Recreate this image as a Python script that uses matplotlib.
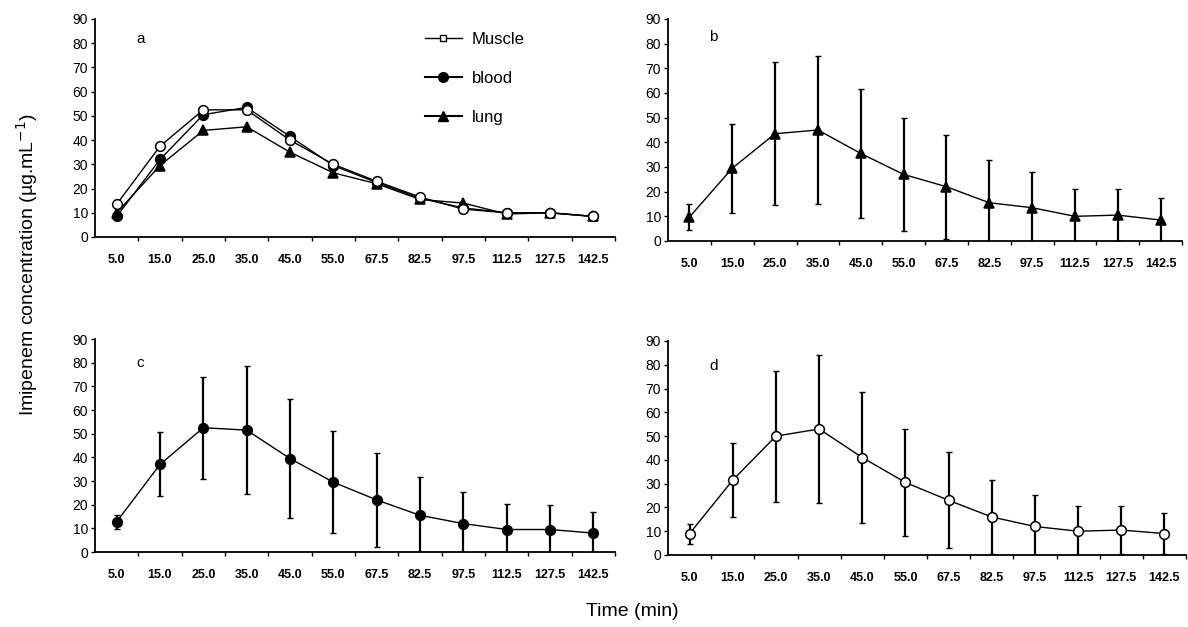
import numpy as np
import matplotlib
matplotlib.use("Agg")
import matplotlib.pyplot as plt
from matplotlib.ticker import FixedLocator
from matplotlib.lines import Line2D

plt.rcParams['font.family'] = ['Liberation Sans', 'DejaVu Sans']

times = ["5.0", "15.0", "25.0", "35.0", "45.0", "55.0",
         "67.5", "82.5", "97.5", "112.5", "127.5", "142.5"]

# panel a: all three tissues, no error bars
muscle_a = [13.5, 37.5, 52.5, 52.5, 40.0, 30.0, 23.0, 16.5, 11.5, 10.0, 10.0, 8.5]
blood_a = [8.5, 32.0, 50.5, 53.5, 41.5, 29.5, 22.5, 16.0, 12.0, 10.0, 10.0, 8.5]
lung_a = [10.0, 29.5, 44.0, 45.5, 35.0, 26.5, 22.0, 15.5, 14.0, 9.5, 10.0, 8.5]

# panel b: lung
lung_mean = [9.7, 29.5, 43.5, 45.0, 35.5, 27.0, 22.0, 15.5, 13.5, 10.0, 10.5, 8.5]
lung_sd = [5.2, 18.0, 29.0, 30.0, 26.0, 23.0, 21.0, 17.5, 14.5, 11.0, 10.5, 9.0]

# panel c: blood
blood_mean = [12.8, 37.0, 52.5, 51.5, 39.5, 29.5, 22.0, 15.5, 12.0, 9.5, 9.5, 8.0]
blood_sd = [3.0, 13.5, 21.5, 27.0, 25.0, 21.5, 19.7, 16.4, 13.5, 10.7, 10.5, 8.7]

# panel d: muscle
muscle_mean = [9.0, 31.5, 50.0, 53.0, 41.0, 30.5, 23.0, 16.0, 12.0, 10.0, 10.5, 9.0]
muscle_sd = [4.2, 15.7, 27.5, 31.3, 27.5, 22.7, 20.2, 15.5, 13.3, 10.5, 10.0, 8.5]

W, H = 1188, 627
fig = plt.figure(figsize=(W / 100, H / 100), dpi=100)


def px_axes(x0, x1, y_top, y_bot):
    return fig.add_axes([x0 / W, 1 - y_bot / H, (x1 - x0) / W, (y_bot - y_top) / H])


def style(ax, letter, ly):
    n = len(times)
    ax.set_xlim(-0.5, n - 0.5)
    ax.set_ylim(0, 90)
    ax.set_yticks(range(0, 91, 10))
    ax.set_xticks(range(n))
    ax.set_xticklabels(times, fontsize=9, fontweight='bold')
    ax.xaxis.set_minor_locator(FixedLocator(np.arange(0.5, n, 1.0)))
    ax.tick_params(axis='x', which='major', length=0, pad=12)
    ax.tick_params(axis='x', which='minor', length=3, width=1, direction='out')
    ax.tick_params(axis='y', length=3, width=1, labelsize=10, pad=2)
    for s in ['top', 'right']:
        ax.spines[s].set_visible(False)
    for s in ['left', 'bottom']:
        ax.spines[s].set_linewidth(1.3)
    ax.text(0.45, ly, letter, fontsize=11, transform=ax.transData)


x = np.arange(len(times))
mk = dict(markersize=7, markeredgewidth=1.1, linewidth=1, color='black')
eb = dict(ecolor='black', elinewidth=1.6, capsize=2, capthick=1, zorder=1)

# a
ax = px_axes(95, 615, 19, 237)
ax.plot(x, muscle_a, marker='o', markerfacecolor='white', zorder=4, **mk)
ax.plot(x, blood_a, marker='o', markerfacecolor='black', zorder=3, **mk)
ax.plot(x, lung_a, marker='^', markerfacecolor='black', zorder=2, **mk)
style(ax, 'a', 80)
handles = [
    Line2D([], [], color='black', lw=1, marker='s', markersize=5,
           markerfacecolor='white', markeredgewidth=1),
    Line2D([], [], color='black', lw=1.5, marker='o', markersize=7,
           markerfacecolor='black'),
    Line2D([], [], color='black', lw=1.5, marker='^', markersize=7,
           markerfacecolor='black'),
]
ax.legend(handles, ['Muscle', 'blood', 'lung'], loc='upper left',
          bbox_to_anchor=(0.606, 1.01), frameon=False, fontsize=12,
          labelspacing=1.45, handlelength=2.2, handletextpad=0.6)

# b
ax = px_axes(668, 1182, 19, 241)
ax.errorbar(x, lung_mean, yerr=lung_sd, fmt='none', **eb)
ax.plot(x, lung_mean, marker='^', markerfacecolor='black', zorder=3, **mk)
style(ax, 'b', 81)

# c
ax = px_axes(95, 615, 339, 552)
ax.errorbar(x, blood_mean, yerr=blood_sd, fmt='none', **eb)
ax.plot(x, blood_mean, marker='o', markerfacecolor='black', zorder=3, **mk)
style(ax, 'c', 78)

# d
ax = px_axes(668, 1186, 341, 555)
ax.errorbar(x, muscle_mean, yerr=muscle_sd, fmt='none', **eb)
ax.plot(x, muscle_mean, marker='o', markerfacecolor='white', zorder=3, **mk)
style(ax, 'd', 78)

fig.text(27 / W, 1 - 265 / H, 'Imipenem concentration (\u00b5g.mL$^{-1}$)', rotation=90,
         ha='center', va='center', fontsize=14)
fig.text(632 / W, 1 - 612 / H, 'Time (min)', ha='center', va='center', fontsize=14)

fig.savefig("out.png", dpi=100)
